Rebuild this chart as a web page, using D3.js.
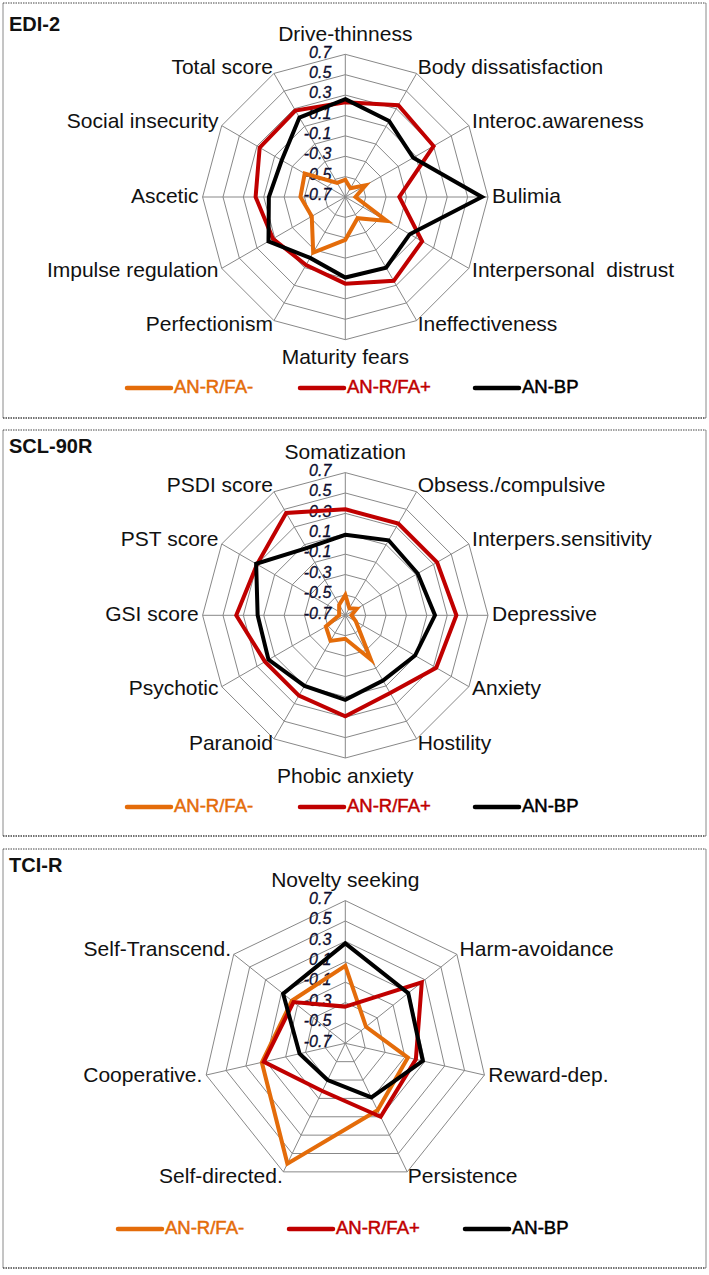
<!DOCTYPE html>
<html>
<head>
<meta charset="utf-8">
<script src="https://cdn.jsdelivr.net/npm/d3@7"></script>
<style>
  html, body { margin: 0; padding: 0; background: #fff; }
  svg { display: block; }
  text { font-family: "Liberation Sans", Arial, sans-serif; }
</style>
</head>
<body>
<svg id="chart" width="709" height="1275"></svg>
<script>
// ---------------- DATA ----------------
const seriesNames = ["AN-R/FA-", "AN-R/FA+", "AN-BP"];
const seriesColors = ["#E46C0A", "#C00000", "#000000"];
const tickValues = [-0.7, -0.5, -0.3, -0.1, 0.1, 0.3, 0.5, 0.7];
const tickLabels = ["-0.7", "-0.5", "-0.3", "-0.1", "0.1", "0.3", "0.5", "0.7"];

const ediCategories = ["Drive-thinness", "Body dissatisfaction", "Interoc.awareness", "Bulimia",
  "Interpersonal  distrust", "Ineffectiveness", "Maturity fears", "Perfectionism",
  "Impulse regulation", "Ascetic", "Social insecurity", "Total score"];
const ediFAminus = [-0.53, -0.60, -0.47, -0.60, -0.23, -0.46, -0.28, -0.07, -0.32, -0.26, -0.24, -0.54];
const ediFAplus  = [0.23, 0.34, 0.30, -0.17, 0.17, 0.25, 0.15, 0.07, 0.12, 0.18, 0.27, 0.28];
const ediBP      = [0.26, 0.16, 0.07, 0.64, 0.03, 0.10, 0.09, -0.01, 0.17, 0.05, 0.02, 0.20];

const sclCategories = ["Somatization", "Obsess./compulsive", "Interpers.sensitivity", "Depressive",
  "Anxiety", "Hostility", "Phobic anxiety", "Paranoid", "Psychotic", "GSI score", "PST score", "PSDI score"];
const sclFAminus = [-0.50, -0.62, -0.57, -0.64, -0.58, -0.20, -0.47, -0.41, -0.48, -0.64, -0.63, -0.58];
const sclFAplus  = [0.34, 0.34, 0.34, 0.39, 0.33, 0.18, 0.29, 0.21, 0.21, 0.37, 0.30, 0.46];
const sclBP      = [0.09, 0.15, 0.12, 0.18, 0.09, 0.04, 0.13, 0.10, 0.17, 0.16, 0.31, 0.06];

const tciCategories = ["Novelty seeking", "Harm-avoidance", "Reward-dep.", "Persistence",
  "Self-directed.", "Cooperative.", "Self-Transcend."];
const tciFAminus = [0.06, -0.44, -0.07, 0.03, 0.61, 0.14, -0.03];
const tciFAplus  = [-0.34, 0.26, 0.01, 0.10, -0.18, 0.12, -0.05];
const tciBP      = [0.28, 0.09, 0.08, -0.11, -0.30, -0.24, 0.08];

const panelTitles = ["EDI-2", "SCL-90R", "TCI-R"];

// ---------------- LAYOUT ----------------
const svg = d3.select("#chart");
const R = 142.7;
const rScale = d3.scaleLinear().domain([-0.7, 0.7]).range([0, R]);

const panels = [
  { title: panelTitles[0], cats: ediCategories, data: [ediFAminus, ediFAplus, ediBP],
    cx: 345.3, cy: 197, top: 3, bottom: 418, titleY: 26, legendY: 388, legendX: [127, 300, 475] },
  { title: panelTitles[1], cats: sclCategories, data: [sclFAminus, sclFAplus, sclBP],
    cx: 345.3, cy: 615.3, top: 430, bottom: 836, titleY: 448, legendY: 807, legendX: [127, 300, 475] },
  { title: panelTitles[2], cats: tciCategories, data: [tciFAminus, tciFAplus, tciBP],
    cx: 345.3, cy: 1043.3, top: 849, bottom: 1268, titleY: 867, legendY: 1229, legendX: [118, 289, 465] }
];

panels.forEach(p => drawPanel(p));

function drawPanel(p) {
  const g = svg.append("g");
  // border
  g.append("line").attr("x1", 3).attr("x2", 3).attr("y1", p.top).attr("y2", p.bottom)
    .attr("stroke", "#8a8a8a").attr("stroke-width", 1);
  g.append("line").attr("x1", 706).attr("x2", 706).attr("y1", p.top).attr("y2", p.bottom)
    .attr("stroke", "#8a8a8a").attr("stroke-width", 1);
  g.append("line").attr("x1", 3).attr("x2", 706).attr("y1", p.top).attr("y2", p.top)
    .attr("stroke", "#444").attr("stroke-width", 1).attr("stroke-dasharray", "1.5,1");
  g.append("line").attr("x1", 3).attr("x2", 706).attr("y1", p.bottom).attr("y2", p.bottom)
    .attr("stroke", "#444").attr("stroke-width", 1.3).attr("stroke-dasharray", "1.5,1");

  // title
  g.append("text").attr("x", 9).attr("y", p.titleY).attr("dominant-baseline", "middle")
    .attr("font-size", 20).attr("font-weight", "bold").attr("fill", "#111").text(p.title);

  const n = p.cats.length;
  const angle = d3.scaleLinear().domain([0, n]).range([0, 2 * Math.PI]);
  const pt = (i, v) => {
    const a = angle(i), r = rScale(v);
    return [p.cx + r * Math.sin(a), p.cy - r * Math.cos(a)];
  };

  const plot = g.append("g");
  const lineGen = d3.line();
  // rings
  tickValues.slice(1).forEach(t => {
    const pts = d3.range(n).map(i => pt(i, t));
    plot.append("path").attr("d", lineGen(pts) + "Z")
      .attr("fill", "none").attr("stroke", "#888").attr("stroke-width", 1);
  });
  // spokes
  d3.range(n).forEach(i => {
    const [x, y] = pt(i, 0.7);
    plot.append("line").attr("x1", p.cx).attr("y1", p.cy).attr("x2", x).attr("y2", y)
      .attr("stroke", "#888").attr("stroke-width", 1);
  });
  // tick labels
  tickValues.forEach((t, k) => {
    plot.append("text").attr("x", p.cx - 14).attr("y", p.cy - rScale(t) - 1)
      .attr("text-anchor", "end").attr("dominant-baseline", "middle")
      .attr("font-size", 16).attr("font-style", "italic").attr("fill", "#0c0c2e")
      .attr("stroke", "#0c0c2e").attr("stroke-width", 0.3)
      .text(tickLabels[k]);
  });
  // category labels
  p.cats.forEach((c, i) => {
    const a = angle(i);
    const s = Math.sin(a), co = Math.cos(a);
    const rr = R + 6;
    let x = p.cx + rr * s, y = p.cy - rr * co;
    let anchor = "middle";
    if (Math.abs(s) < 0.2) { y -= co * 13; }
    else if (s > 0) { anchor = "start"; x -= 2; }
    else { anchor = "end"; x += 2; }
    g.append("text").attr("x", x).attr("y", y).attr("text-anchor", anchor)
      .attr("dominant-baseline", "middle").attr("font-size", 21).attr("fill", "#111")
      .style("white-space", "pre").text(c);
  });

  // series
  p.data.forEach((vals, s) => {
    const pts = vals.map((v, i) => pt(i, v));
    plot.append("path").attr("d", lineGen(pts) + "Z")
      .attr("fill", "none").attr("stroke", seriesColors[s]).attr("stroke-width", 4)
      .attr("stroke-linejoin", "miter");
  });

  // legend
  seriesNames.forEach((name, s) => {
    const lx = p.legendX[s];
    g.append("line").attr("x1", lx).attr("x2", lx + 44).attr("y1", p.legendY).attr("y2", p.legendY)
      .attr("stroke", seriesColors[s]).attr("stroke-width", 4.5).attr("stroke-linecap", "round");
    g.append("text").attr("x", lx + 47).attr("y", p.legendY).attr("dominant-baseline", "middle")
      .attr("font-size", 18.5).attr("fill", seriesColors[s])
      .attr("stroke", seriesColors[s]).attr("stroke-width", 0.5).text(name);
  });
}
</script>
</body>
</html>
